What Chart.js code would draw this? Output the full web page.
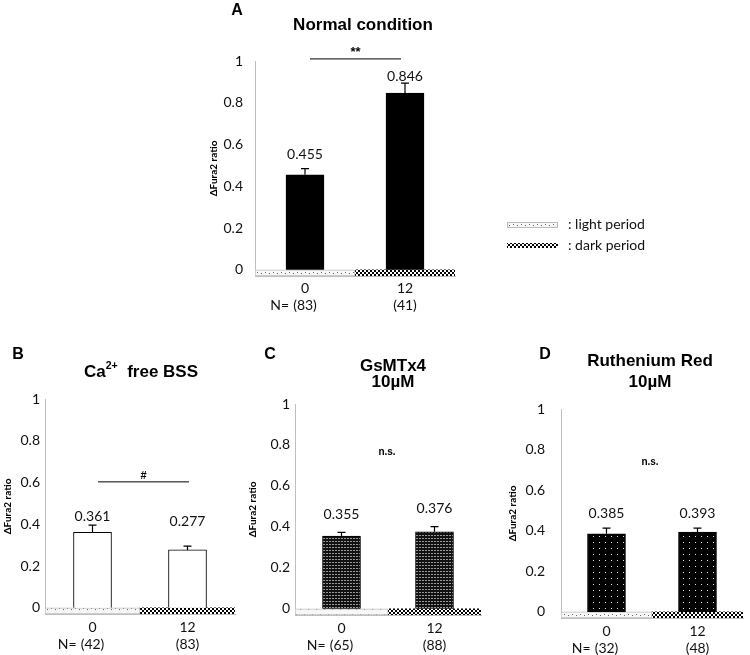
<!DOCTYPE html>
<html>
<head>
<meta charset="utf-8">
<script src="https://cdn.jsdelivr.net/npm/chart.js@4.4.0/dist/chart.umd.min.js"></script>
<style>
  body { margin: 0; width: 750px; height: 655px; overflow: hidden; background: #fff; position: relative; }
  canvas { position: absolute; }
</style>
</head>
<body>
<script>
// hours after light on, shown as x categories
const categories = ['0', '12'];
const yTicks = [0, 0.2, 0.4, 0.6, 0.8, 1];
const yTickLabels = ['0', '0.2', '0.4', '0.6', '0.8', '1'];

// A: normal condition
const normalMeans = [0.455, 0.846];
const normalErr = [0.029, 0.048];
const normalN = ['(83)', '(41)'];
// B: Ca2+ free BSS
const caFreeMeans = [0.361, 0.277];
const caFreeErr = [0.035, 0.018];
const caFreeN = ['(42)', '(83)'];
// C: GsMTx4 10uM
const gsMeans = [0.355, 0.376];
const gsErr = [0.018, 0.025];
const gsN = ['(65)', '(88)'];
// D: Ruthenium Red 10uM
const rrMeans = [0.385, 0.393];
const rrErr = [0.028, 0.020];
const rrN = ['(32)', '(48)'];

// light / dark period strip under the axis
const stripLight = [[-0.03, 0], null];
const stripDark = [null, [-0.03, 0]];

const FONT = 'Lato, "DejaVu Sans", sans-serif';
const BOLD = '"Liberation Sans", Arial, sans-serif';
const TXT = '#111';

function pattern(w, h, bg, fg, cells) {
  const c = document.createElement('canvas');
  c.width = w; c.height = h;
  const g = c.getContext('2d');
  g.fillStyle = bg; g.fillRect(0, 0, w, h);
  g.fillStyle = fg;
  cells.forEach(r => g.fillRect(r[0], r[1], r[2], r[3]));
  return g.createPattern(c, 'repeat');
}
const lightP = pattern(8, 6, '#f7f7f7', '#666', [[1, 2, 1, 1], [5, 3, 1, 1]]);
const darkP = pattern(4, 4, '#fff', '#000', [[0, 0, 2, 2], [2, 2, 2, 2]]);
const gsP = pattern(3, 3, '#111', '#9a9a9a', [[1, 1, 2, 1]]);
const rrP = pattern(6, 6, '#000', '#e8e8e8', [[2, 2, 1, 1]]);

function richText(ctx, segs, cx, cy, size) {
  let w = 0;
  segs.forEach(s => {
    ctx.font = 'bold ' + (s[1] ? size * 0.62 : size) + 'px ' + BOLD;
    w += ctx.measureText(s[0]).width;
  });
  let x = cx - w / 2;
  ctx.textAlign = 'left';
  segs.forEach(s => {
    ctx.font = 'bold ' + (s[1] ? size * 0.62 : size) + 'px ' + BOLD;
    ctx.fillText(s[0], x, s[1] ? cy - size * 0.32 : cy);
    x += ctx.measureText(s[0]).width;
  });
}

const decor = {
  id: 'decor',
  afterDraw(chart, args, o) {
    const ctx = chart.ctx, xs = chart.scales.x, ys = chart.scales.y;
    const L = o.left, T = o.top;
    ctx.save();
    ctx.fillStyle = '#000';
    ctx.textBaseline = 'middle';
    // panel letter
    ctx.font = 'bold 16px ' + BOLD;
    ctx.textAlign = 'center';
    ctx.fillText(o.letter[0], o.letter[1] - L, o.letter[2] - T);
    // title lines
    o.title.forEach(line => richText(ctx, line.segs, o.titleX - L, line.y - T, 17));
    // error bars and value labels
    o.means.forEach((m, i) => {
      const px = xs.getPixelForValue(i);
      const y0 = ys.getPixelForValue(m), y1 = ys.getPixelForValue(m + o.err[i]);
      ctx.strokeStyle = '#000'; ctx.lineWidth = 1.2;
      ctx.beginPath();
      ctx.moveTo(px, y0); ctx.lineTo(px, y1);
      ctx.moveTo(px - 4, y1); ctx.lineTo(px + 4, y1);
      ctx.stroke();
      ctx.fillStyle = TXT;
      ctx.font = '14px ' + FONT;
      ctx.textAlign = 'center';
      ctx.fillText(m.toFixed(3), px, y1 - o.labelOff[i]);
    });
    // "N=" before the first count
    ctx.font = '14px ' + FONT;
    const first = xs.getPixelForValue(0);
    const half = ctx.measureText(o.n[0]).width / 2;
    ctx.textAlign = 'right';
    ctx.fillText('N=', first - half - 4, xs.top + o.xPad + 16.8 * 1.5);
    // significance
    ctx.fillStyle = '#000';
    ctx.textAlign = 'center';
    if (o.sig.line) {
      const sy = ys.getPixelForValue(o.sig.y);
      ctx.strokeStyle = '#000'; ctx.lineWidth = 1;
      ctx.beginPath(); ctx.moveTo(o.sig.x0 - L, sy); ctx.lineTo(o.sig.x1 - L, sy); ctx.stroke();
      ctx.font = 'bold ' + o.sig.size + 'px ' + BOLD;
      ctx.fillText(o.sig.text, (o.sig.x0 + o.sig.x1) / 2 - L, sy - 6);
    } else {
      ctx.font = 'bold ' + o.sig.size + 'px ' + BOLD;
      ctx.fillText(o.sig.text, o.sig.x - L, ys.getPixelForValue(o.sig.y));
    }
    // light / dark legend (panel A only)
    if (o.legend) {
      const items = [[lightP, '#bbb', ': light period', 222], [darkP, null, ': dark period', 243]];
      items.forEach(it => {
        ctx.fillStyle = it[0];
        ctx.fillRect(507 - L, it[3] - T, 51, 5);
        if (it[1]) { ctx.strokeStyle = it[1]; ctx.lineWidth = 1; ctx.strokeRect(507.5 - L, it[3] + 0.5 - T, 50, 5); }
        ctx.fillStyle = TXT;
        ctx.font = '14px ' + FONT;
        ctx.textAlign = 'left';
        ctx.fillText(it[2], 568 - L, it[3] + 2.5 - T);
      });
    }
    ctx.restore();
  }
};

function panel(p) {
  const cv = document.createElement('canvas');
  cv.width = p.w; cv.height = p.h;
  cv.style.left = p.left + 'px'; cv.style.top = p.top + 'px';
  document.body.appendChild(cv);
  return new Chart(cv, {
    type: 'bar',
    data: {
      labels: categories.map((c, i) => [c, p.n[i]]),
      datasets: [
        { data: p.means, backgroundColor: p.fill, borderColor: '#000', borderWidth: 1,
          barThickness: 38, grouped: false, order: 0 },
        { data: stripLight, backgroundColor: lightP, borderColor: '#c0c0c0', borderWidth: 1,
          borderSkipped: false, barPercentage: 1, categoryPercentage: 1, grouped: false, order: 1 },
        { data: stripDark, backgroundColor: darkP, borderWidth: 0,
          barPercentage: 1, categoryPercentage: 1, grouped: false, order: 1 }
      ]
    },
    options: {
      responsive: false,
      animation: false,
      layout: { padding: { left: 0, right: p.padR, top: p.padT, bottom: p.padB } },
      plugins: {
        legend: { display: false },
        tooltip: { enabled: false },
        decor: Object.assign({ means: p.means, n: p.n, left: p.left, top: p.top }, p.decor, { xPad: p.xPad })
      },
      scales: {
        x: {
          grid: { display: false, drawTicks: false },
          border: { color: '#bfbfbf' },
          ticks: { color: TXT, font: { family: FONT, size: 14 }, padding: p.xPad, maxRotation: 0, autoSkip: false },
          afterFit: s => { s.height = 40; }
        },
        y: {
          min: -0.03, max: 1,
          grid: { display: false, drawTicks: false },
          border: { color: '#bfbfbf' },
          afterBuildTicks: s => { s.ticks = yTicks.map(v => ({ value: v })); },
          ticks: { color: TXT, font: { family: FONT, size: 14 }, padding: p.yPad,
                   callback: (v, i) => yTickLabels[i] },
          title: { display: true, text: 'ΔFura2 ratio', color: '#000', padding: 0,
                   font: { family: FONT, size: 10, weight: 'bold' } },
          afterFit: s => { s.width = p.yw; }
        }
      }
    },
    plugins: [decor]
  });
}

panel({
  left: 208, top: 0, w: 460, h: 320, padR: 213, padT: 61, padB: 4, yw: 47, yPad: 12, xPad: 4,
  means: normalMeans, n: normalN, fill: '#000',
  decor: {
    err: normalErr, labelOff: [14, 7], letter: ['A', 237, 11], titleX: 363,
    title: [{ y: 25, segs: [['Normal condition']] }],
    sig: { line: true, y: 1.01, x0: 310, x1: 401, text: '**', size: 13 },
    legend: true
  }
});
panel({
  left: 2, top: 330, w: 248, h: 330, padR: 15, padT: 69, padB: 6, yw: 43, yPad: 5, xPad: 5,
  means: caFreeMeans, n: caFreeN, fill: '#fff',
  decor: {
    err: caFreeErr, labelOff: [9, 25], letter: ['B', 18, 355], titleX: 141,
    title: [{ y: 372, segs: [['Ca'], ['2+', true], ['  free BSS']] }],
    sig: { line: true, y: 0.603, x0: 98, x1: 189, text: '#', size: 11 }
  }
});
panel({
  left: 247, top: 330, w: 253, h: 330, padR: 19, padT: 74, padB: 5, yw: 48, yPad: 5, xPad: 5,
  means: gsMeans, n: gsN, fill: gsP,
  decor: {
    err: gsErr, labelOff: [18, 18], letter: ['C', 270, 355], titleX: 393,
    title: [{ y: 366, segs: [['GsMTx4']] }, { y: 382, segs: [['10µM']] }],
    sig: { line: false, y: 0.766, x: 387, text: 'n.s.', size: 10 }
  }
});
panel({
  left: 507, top: 330, w: 243, h: 330, padR: 7, padT: 79, padB: 2, yw: 54, yPad: 16, xPad: 5,
  means: rrMeans, n: rrN, fill: rrP,
  decor: {
    err: rrErr, labelOff: [15, 15], letter: ['D', 545, 355], titleX: 650,
    title: [{ y: 361, segs: [['Ruthenium Red']] }, { y: 382, segs: [['10µM']] }],
    sig: { line: false, y: 0.74, x: 650, text: 'n.s.', size: 10 }
  }
});
</script>
</body>
</html>
